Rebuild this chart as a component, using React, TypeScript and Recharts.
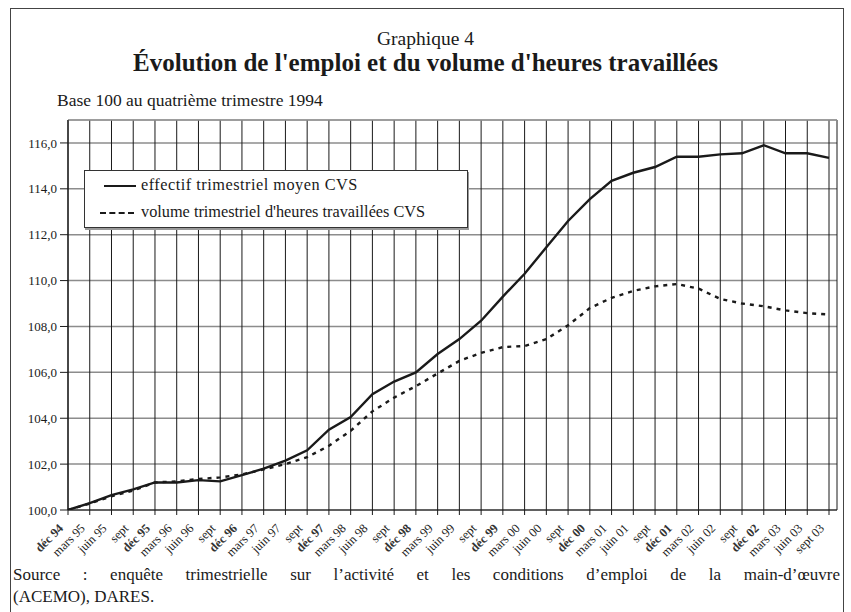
import React from 'react';
import {
  LineChart,
  Line,
  XAxis,
  YAxis,
  CartesianGrid,
  ReferenceLine,
} from 'recharts';

const QUARTERS = [
  'déc 94', 'mars 95', 'juin 95', 'sept', 'déc 95', 'mars 96', 'juin 96', 'sept',
  'déc 96', 'mars 97', 'juin 97', 'sept', 'déc 97', 'mars 98', 'juin 98', 'sept',
  'déc 98', 'mars 99', 'juin 99', 'sept', 'déc 99', 'mars 00', 'juin 00', 'sept',
  'déc 00', 'mars 01', 'juin 01', 'sept', 'déc 01', 'mars 02', 'juin 02', 'sept',
  'déc 02', 'mars 03', 'juin 03', 'sept 03',
];

// effectif trimestriel moyen CVS
const EFFECTIF = [
  100.0, 100.3, 100.65, 100.9, 101.2, 101.2, 101.3, 101.25,
  101.52, 101.8, 102.15, 102.6, 103.5, 104.05, 105.05, 105.6,
  106.0, 106.8, 107.45, 108.25, 109.3, 110.3, 111.45, 112.6,
  113.55, 114.35, 114.7, 114.95, 115.4, 115.4, 115.5, 115.55,
  115.9, 115.55, 115.55, 115.35,
];

// volume trimestriel d'heures travaillées CVS
const VOLUME = [
  100.0, 100.28, 100.6, 100.85, 101.2, 101.25, 101.35, 101.42,
  101.55, 101.77, 102.0, 102.3, 102.8, 103.45, 104.3, 104.9,
  105.4, 105.95, 106.5, 106.85, 107.1, 107.15, 107.45, 108.05,
  108.8, 109.25, 109.55, 109.75, 109.85, 109.65, 109.2, 109.0,
  108.88, 108.7, 108.58, 108.52,
];

const Y_TICKS = [100, 102, 104, 106, 108, 110, 112, 114, 116];

const data = QUARTERS.map((q, i) => ({ q, effectif: EFFECTIF[i], volume: VOLUME[i] }));

const SERIF = '"Liberation Serif", "Times New Roman", serif';
const INK = '#1a1a1a';

const XTick = (props: any) => {
  const { x, y, payload } = props;
  const label: string = payload.value;
  return (
    <g transform={`translate(${x - 4},${y + 12})`}>
      <text
        x={0}
        y={0}
        transform="rotate(-45)"
        textAnchor="end"
        fontSize={12.5}
        fontFamily={SERIF}
        fontWeight={label.startsWith('déc') ? 700 : 400}
        fill={label.startsWith('déc') ? '#333' : INK}
      >
        {label}
      </text>
    </g>
  );
};

export default function App() {
  return (
    <div style={{ position: 'absolute', left: 0, top: 0, width: 851, height: 612, overflow: 'hidden', background: '#fff', fontFamily: SERIF, color: INK }}>
      <div style={{ position: 'absolute', left: 10, top: 8, width: 832, height: 640, border: '1.5px solid #444' }} />

      <div style={{ position: 'absolute', left: 0, width: 851, top: 28, textAlign: 'center', fontSize: 19.5, lineHeight: '22px' }}>
        Graphique 4
      </div>
      <div style={{ position: 'absolute', left: 0, width: 851, top: 49, textAlign: 'center', fontSize: 25, fontWeight: 700, lineHeight: '28px' }}>
        Évolution de l'emploi et du volume d'heures travaillées
      </div>
      <div style={{ position: 'absolute', left: 57, top: 90, fontSize: 17.5, lineHeight: '20px' }}>
        Base 100 au quatrième trimestre 1994
      </div>

      <div style={{ position: 'absolute', left: 0, top: 0 }}>
        <LineChart
          width={851}
          height={612}
          data={data}
          margin={{ top: 120, right: 14, bottom: 42, left: 8 }}
        >
          <CartesianGrid horizontal={true} vertical={false} stroke="#8c8c8c" strokeWidth={1.5} />
          <CartesianGrid horizontal={false} vertical={true} stroke={INK} strokeWidth={1} />
          <XAxis
            dataKey="q"
            interval={0}
            padding={{ left: 0, right: 8 }}
            height={60}
            tick={<XTick />}
            tickSize={5}
            axisLine={{ stroke: INK, strokeWidth: 1.2 }}
            tickLine={{ stroke: INK }}
          />
          <YAxis
            domain={[100, 117]}
            ticks={Y_TICKS}
            allowDataOverflow
            width={60}
            tickSize={8}
            tickMargin={3}
            tickFormatter={(v: number) => v.toFixed(1).replace('.', ',')}
            tick={{ fontSize: 13, fontFamily: SERIF, fill: INK }}
            axisLine={{ stroke: INK, strokeWidth: 1.2 }}
            tickLine={{ stroke: INK }}
          />
          <YAxis
            yAxisId="frame"
            orientation="right"
            domain={[0, 1]}
            width={0}
            tick={false}
            tickLine={false}
            axisLine={{ stroke: '#9a9a9a', strokeWidth: 1.5 }}
          />
          <ReferenceLine y={117} stroke="#9a9a9a" strokeWidth={1.5} />
          <Line
            dataKey="effectif"
            type="linear"
            stroke={INK}
            strokeWidth={2.4}
            dot={false}
            isAnimationActive={false}
          />
          <Line
            dataKey="volume"
            type="linear"
            stroke={INK}
            strokeWidth={2.4}
            strokeDasharray="4 5"
            dot={false}
            isAnimationActive={false}
          />
        </LineChart>
      </div>

      <div style={{ position: 'absolute', left: 84, top: 170, width: 384, height: 58, background: '#fff', border: '1px solid #333', boxShadow: '1px 2px 0 #999', boxSizing: 'border-box', fontSize: 16.3 }}>
        <div style={{ position: 'absolute', left: 19, top: 14, width: 32, borderTop: `2.4px solid ${INK}` }} />
        <div style={{ position: 'absolute', left: 56, top: 4, lineHeight: '20px', whiteSpace: 'nowrap', letterSpacing: 0.5 }}>effectif trimestriel moyen CVS</div>
        <div style={{ position: 'absolute', left: 15, top: 41, width: 34, borderTop: `2.4px dashed ${INK}` }} />
        <div style={{ position: 'absolute', left: 56, top: 31, lineHeight: '20px', whiteSpace: 'nowrap' }}>volume trimestriel d'heures travaillées CVS</div>
      </div>

      <div style={{ position: 'absolute', left: 13, width: 827, top: 564, fontSize: 17, lineHeight: '22px' }}>
        <div style={{ textAlign: 'justify', textAlignLast: 'justify' }}>
          Source : enquête trimestrielle sur l’activité et les conditions d’emploi de la main-d’œuvre
        </div>
        <div>(ACEMO), DARES.</div>
      </div>
    </div>
  );
}
